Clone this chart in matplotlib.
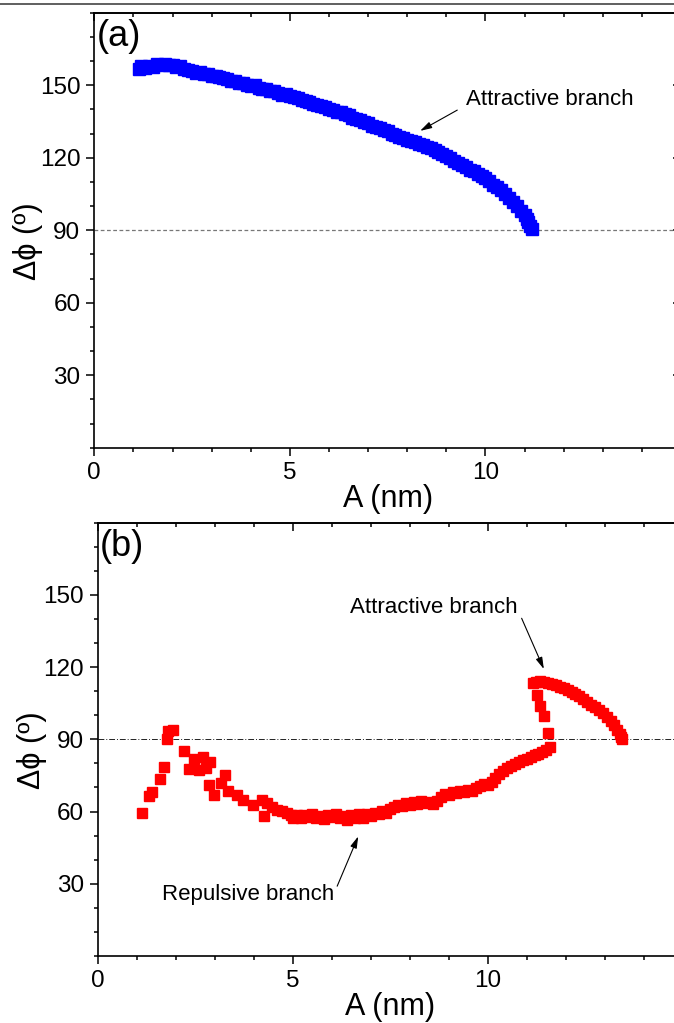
import numpy as np
import matplotlib
matplotlib.use('Agg')
import matplotlib.pyplot as plt
from matplotlib.lines import Line2D
from matplotlib.ticker import MultipleLocator

plt.rcParams['font.family'] = ['Liberation Sans', 'DejaVu Sans']

# panel (a): attractive branch only
a_amp = [1.15, 1.2, 1.3, 1.4, 1.5, 1.6, 1.7, 1.8, 1.9, 2.0, 2.1, 2.2, 2.3, 2.4, 2.5, 2.6,
         2.7, 2.8, 2.9, 3.0, 3.1, 3.2, 3.3, 3.4, 3.5, 3.6, 3.7, 3.8, 3.9, 4.0, 4.1, 4.2,
         4.3, 4.4, 4.5, 4.6, 4.7, 4.8, 4.9, 5.0, 5.1, 5.2, 5.3, 5.4, 5.5, 5.6, 5.7, 5.8,
         5.9, 6.0, 6.1, 6.2, 6.3, 6.4, 6.5, 6.6, 6.7, 6.8, 6.9, 7.0, 7.1, 7.2, 7.3, 7.4,
         7.5, 7.6, 7.7, 7.8, 7.9, 8.0, 8.1, 8.2, 8.3, 8.4, 8.5, 8.6, 8.7, 8.8, 8.9, 9.0,
         9.1, 9.2, 9.3, 9.4, 9.5, 9.6, 9.7, 9.8, 9.9, 10.0, 10.1, 10.2, 10.3, 10.4, 10.5,
         10.6, 10.7, 10.8, 10.9, 11.0, 11.05, 11.1, 11.15, 11.2]
a_phi = [156.8, 157.8, 157.2, 158.0, 157.6, 158.6, 158.2, 158.9, 158.3, 158.5, 157.6, 157.9,
         156.9, 156.3, 155.9, 155.2, 155.4, 154.6, 154.8, 154.0, 153.8, 153.2, 152.9, 152.5,
         151.8, 151.6, 150.9, 151.1, 150.2, 149.7, 149.9, 148.9, 148.5, 148.4, 147.5, 147.6,
         146.8, 146.1, 146.3, 145.4, 145.0, 144.9, 144.0, 143.4, 143.1, 142.3, 142.0, 141.3,
         141.0, 140.3, 139.9, 139.1, 138.8, 137.9, 137.6, 136.6, 136.0, 135.4, 134.6, 134.4,
         133.3, 132.9, 132.2, 131.3, 131.0, 130.0, 129.4, 128.5, 128.3, 127.5, 127.1, 126.3,
         125.8, 125.2, 124.4, 123.9, 123.0, 122.3, 121.6, 120.5, 119.7, 118.8, 117.8, 116.9,
         116.1, 115.0, 114.3, 113.2, 112.5, 111.4, 110.2, 108.9, 107.8, 106.5, 104.8, 103.3,
         101.6, 100.0, 98.0, 96.2, 94.8, 93.2, 91.8, 90.6]

# panel (b): repulsive branch, jump, attractive branch
b_amp = [1.14, 1.32, 1.40, 1.61, 1.71, 1.78, 1.79, 1.94, 2.21, 2.35, 2.47, 2.60, 2.71, 2.78,
         2.87, 2.85, 2.99, 3.15, 3.26, 3.35, 3.56, 3.73, 3.99, 4.20, 4.27, 4.33, 4.46, 4.59,
         4.72, 4.85, 4.95,
         5.0, 5.1, 5.2, 5.3, 5.4, 5.5, 5.6, 5.7, 5.8, 5.9, 6.0, 6.1, 6.2, 6.3, 6.4, 6.5,
         6.6, 6.7, 6.8, 6.9, 7.0, 7.1, 7.2, 7.3, 7.4, 7.5, 7.6, 7.7, 7.8, 7.9, 8.0, 8.1,
         8.2, 8.3, 8.4, 8.5, 8.6, 8.7, 8.8, 8.9, 9.0, 9.1, 9.2, 9.3, 9.4, 9.5, 9.6, 9.7,
         9.8, 9.9, 10.0, 10.1, 10.2, 10.3, 10.4, 10.5, 10.6, 10.7, 10.8, 10.9, 11.0, 11.1,
         11.2, 11.3, 11.4, 11.5, 11.6,
         11.55, 11.44, 11.34, 11.27, 11.17,
         11.25, 11.35, 11.45, 11.55, 11.65, 11.75, 11.85, 11.95, 12.05, 12.15, 12.25, 12.35,
         12.45, 12.55, 12.65, 12.75, 12.85, 12.95, 13.05, 13.15, 13.25, 13.32, 13.38, 13.42,
         13.45]
b_phi = [59.5, 66.6, 68.0, 73.5, 78.6, 90.1, 93.3, 93.9, 85.1, 77.8, 82.0, 77.4, 82.6, 78.2,
         80.4, 71.0, 66.9, 71.9, 75.3, 68.4, 67.0, 65.0, 62.9, 65.0, 58.3, 63.6, 62.0, 60.8,
         60.2, 59.4, 58.5,
         57.5, 58.6, 57.2, 58.4, 57.6, 58.9, 57.4, 58.2, 57.0, 58.6, 57.8, 59.0, 57.5, 58.2,
         56.6, 58.4, 57.3, 58.8, 57.4, 59.0, 58.2, 59.6, 58.8, 60.1, 59.4, 61.0, 61.8, 62.9,
         62.2, 63.6, 62.9, 64.0, 63.2, 64.2, 63.5, 63.9, 63.0, 64.4, 66.2, 67.5, 67.0, 68.2,
         67.6, 68.7, 68.0, 69.0, 68.6, 69.8, 70.5, 71.6, 71.0, 72.4, 73.8, 75.5, 76.8, 78.0,
         79.0, 79.8, 80.6, 81.3, 82.0, 82.6, 83.4, 84.0, 84.8, 85.6, 86.8,
         92.6, 99.8, 104.0, 108.5, 113.4,
         113.8, 114.2, 114.0, 113.6, 113.2, 112.6, 111.8, 111.4, 110.6, 109.8, 108.8, 107.9,
         106.6, 105.6, 104.4, 103.4, 102.0, 100.8, 99.3, 97.6, 95.8, 94.0, 92.4, 91.0, 90.2]

W, H = 674, 1023
fig = plt.figure(figsize=(W / 100, H / 100), dpi=100)

# thin rule along the top of the page
fig.add_artist(Line2D([0, 1], [1 - 4 / H, 1 - 4 / H], color='#444444', lw=1.2))

ax1 = fig.add_axes([94.3 / W, 1 - 447.7 / H, 586.7 / W, 435.0 / H])
ax2 = fig.add_axes([97.7 / W, 1 - 956.0 / H, 585.0 / W, 433.3 / H])

ARROW = dict(arrowstyle='-|>,head_length=0.7,head_width=0.2',
             color='black', lw=0.8, shrinkA=0, shrinkB=0)


def style(ax, label):
    ax.set_xlim(0, 15)
    ax.set_ylim(0, 180)
    ax.set_xticks([0, 5, 10])
    ax.xaxis.set_minor_locator(MultipleLocator(1))
    ax.set_yticks([30, 60, 90, 120, 150])
    ax.yaxis.set_minor_locator(MultipleLocator(10))
    for s in ax.spines.values():
        s.set_linewidth(1.2)
    ax.tick_params(which='both', direction='out', top=False, right=False,
                   labelsize=17.5, width=1.1, pad=4)
    ax.tick_params(which='major', length=6)
    ax.tick_params(which='minor', length=3)
    # mirrored ticks pointing inwards on top and right
    sec_x = ax.secondary_xaxis('top')
    sec_x.set_xticks([0, 5, 10])
    sec_x.xaxis.set_minor_locator(MultipleLocator(1))
    sec_x.tick_params(which='both', direction='in', labeltop=False, width=1.1)
    sec_x.tick_params(which='major', length=5.5)
    sec_x.tick_params(which='minor', length=2.8)
    sec_x.spines['top'].set_linewidth(1.2)
    sec_y = ax.secondary_yaxis('right')
    sec_y.set_yticks([30, 60, 90, 120, 150])
    sec_y.yaxis.set_minor_locator(MultipleLocator(10))
    sec_y.tick_params(which='both', direction='in', labelright=False, width=1.1)
    sec_y.tick_params(which='major', length=5.5)
    sec_y.tick_params(which='minor', length=2.8)
    ax.set_xlabel('A (nm)', fontsize=22, labelpad=0)
    ax.set_ylabel('Δϕ (º)', fontsize=22)
    ax.yaxis.set_label_coords(-0.087, 0.475)
    ax.text(0.004, 0.985, label, transform=ax.transAxes, fontsize=26,
            ha='left', va='top')


style(ax1, '(a)')
style(ax2, '(b)')

ax1.axhline(90, color='#777777', lw=0.9, ls=(0, (3, 2)), zorder=1)
ax1.plot(a_amp, a_phi, ls='none', marker='s', ms=8.6, color='#0000ff',
         mec='#0000ff', zorder=3)
ax1.text(9.5, 143.9, 'Attractive branch', fontsize=16, va='center', ha='left')
ax1.annotate('', xy=(8.33, 131.1), xytext=(9.28, 139.7), arrowprops=ARROW)

ax2.axhline(90, color='#222222', lw=0.7, ls=(0, (6, 2, 1, 2)), zorder=1)
ax2.plot(b_amp, b_phi, ls='none', marker='s', ms=7.0, color='#ff0000',
         mec='#ff0000', zorder=3)
ax2.text(10.78, 144.6, 'Attractive branch', fontsize=16, va='center', ha='right')
ax2.annotate('', xy=(11.44, 119.2), xytext=(10.87, 140.3), arrowprops=ARROW)
ax2.text(1.65, 25.5, 'Repulsive branch', fontsize=16, va='center', ha='left')
ax2.annotate('', xy=(6.68, 49.7), xytext=(6.14, 29.0), arrowprops=ARROW)

fig.savefig('out.png', dpi=100)
